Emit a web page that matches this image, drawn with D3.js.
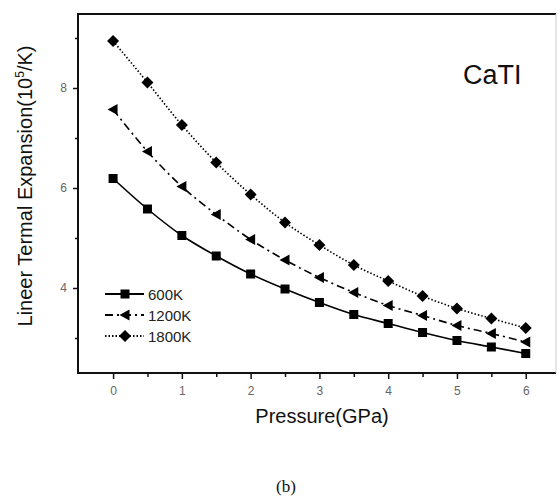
<!DOCTYPE html>
<html>
<head>
<meta charset="utf-8">
<script src="https://cdn.jsdelivr.net/npm/d3@7"></script>
<style>
  body { margin: 0; background: #fff; }
  text { font-family: Arial, "Liberation Sans", sans-serif; }
</style>
</head>
<body>
<svg id="chart" width="557" height="497"></svg>
<script>
// values
var pressure = [0, 0.5, 1, 1.5, 2, 2.5, 3, 3.5, 4, 4.5, 5, 5.5, 6]
var k600  = [6.19, 5.58, 5.05, 4.64, 4.28, 3.98, 3.71, 3.47, 3.29, 3.11, 2.95, 2.82, 2.69]
var k1200 = [7.57, 6.73, 6.03, 5.47, 4.97, 4.56, 4.21, 3.91, 3.65, 3.45, 3.25, 3.09, 2.92]
var k1800 = [8.94, 8.11, 7.26, 6.51, 5.87, 5.31, 4.86, 4.46, 4.14, 3.84, 3.59, 3.39, 3.20]
var xTicks = [0, 1, 2, 3, 4, 5, 6]
var yTicks = [4, 6, 8]
var seriesNames = ['600K', '1200K', '1800K']

var series = [
  {name: seriesNames[0], values: k600,  dash: null,      marker: 'square'},
  {name: seriesNames[1], values: k1200, dash: '8,4,2,4', marker: 'triangle'},
  {name: seriesNames[2], values: k1800, dash: '1.5,2',   marker: 'diamond'}
]

var svg = d3.select('#chart')
// plot box (note: "top" is reserved on window, so use a prefix)
var boxL = 78, boxR = 556, boxT = 14, boxB = 373

var x = d3.scaleLinear().domain([-0.51, 6.44]).range([boxL, boxR])
var y = d3.scaleLinear().domain([2.3, 9.48]).range([boxB, boxT])

// frame: top/left/bottom dark, right edge only faintly visible (cropped in source)
svg.append('path')
  .attr('d', 'M' + boxR + ',' + boxT + 'H' + boxL + 'V' + boxB + 'H' + boxR)
  .attr('fill', 'none').attr('stroke', '#111').attr('stroke-width', 2)
svg.append('line').attr('x1', boxR).attr('x2', boxR).attr('y1', boxT).attr('y2', boxB)
  .attr('stroke', '#ccc').attr('stroke-width', 1)

// x axis: major + minor ticks
var xAxis = svg.append('g').attr('transform', 'translate(0,' + boxB + ')')
xAxis.call(d3.axisBottom(x).tickValues(xTicks).tickSize(6).tickPadding(7).tickFormat(d3.format('d')))
xAxis.append('g').call(d3.axisBottom(x).tickValues([0.5, 1.5, 2.5, 3.5, 4.5, 5.5]).tickSize(4).tickFormat(''))
var yAxis = svg.append('g').attr('transform', 'translate(' + boxL + ',0)')
yAxis.call(d3.axisLeft(y).tickValues(yTicks).tickSize(5).tickPadding(6).tickFormat(d3.format('d')))
yAxis.append('g').call(d3.axisLeft(y).tickValues([3, 5, 7, 9]).tickSize(3).tickFormat(''))

svg.selectAll('.domain').remove()
svg.selectAll('.tick line').attr('stroke', '#111').attr('stroke-width', 1.5)
svg.selectAll('.tick text').attr('fill', '#666').style('font-size', '12px')
  .style('font-family', 'Arial, "Liberation Sans", sans-serif')

function drawMarker(g, type, cx, cy) {
  if (type === 'square') {
    g.append('rect').attr('x', cx - 4.5).attr('y', cy - 4.5).attr('width', 9).attr('height', 9).attr('fill', '#000')
  } else if (type === 'triangle') {
    g.append('path').attr('d', 'M' + (cx - 5.5) + ',' + cy + 'L' + (cx + 4.5) + ',' + (cy - 5.5) + 'L' + (cx + 4.5) + ',' + (cy + 5.5) + 'Z').attr('fill', '#000')
  } else {
    g.append('path').attr('d', 'M' + cx + ',' + (cy - 6) + 'L' + (cx + 6) + ',' + cy + 'L' + cx + ',' + (cy + 6) + 'L' + (cx - 6) + ',' + cy + 'Z').attr('fill', '#000')
  }
}

var line = d3.line().curve(d3.curveCatmullRom)
series.forEach(function(s) {
  var pts = pressure.map(function(p, i) { return [x(p), y(s.values[i])] })
  svg.append('path')
    .attr('d', line(pts))
    .attr('fill', 'none').attr('stroke', '#000').attr('stroke-width', 1.6)
    .attr('stroke-dasharray', s.dash)
  var g = svg.append('g')
  pts.forEach(function(p) { drawMarker(g, s.marker, p[0], p[1]) })
})

// legend
var legend = svg.append('g')
series.forEach(function(s, i) {
  var ly = 294 + i * 21
  legend.append('line').attr('x1', 105).attr('x2', 144).attr('y1', ly).attr('y2', ly)
    .attr('stroke', '#000').attr('stroke-width', 1.8).attr('stroke-dasharray', s.dash)
  drawMarker(legend, s.marker, 125, ly)
  legend.append('text').attr('x', 148).attr('y', ly + 5.5).style('font-size', '15px').attr('fill', '#222').text(s.name)
})

// annotation
svg.append('text').attr('x', 463).attr('y', 84).style('font-size', '27px').attr('fill', '#111').text('CaTI')

// axis titles
svg.append('text').attr('x', 322).attr('y', 423).attr('text-anchor', 'middle')
  .style('font-size', '20px').attr('fill', '#111').text('Pressure(GPa)')

var yl = svg.append('text').attr('transform', 'translate(32,186) rotate(-90)').attr('text-anchor', 'middle')
  .style('font-size', '20px').attr('fill', '#111')
yl.append('tspan').text('Lineer Termal Expansion(10')
yl.append('tspan').attr('dy', -8).style('font-size', '12px').text('5')
yl.append('tspan').attr('dy', 8).text('/K)')

svg.append('text').attr('x', 286).attr('y', 492).attr('text-anchor', 'middle')
  .style('font-family', '"Liberation Serif", "Times New Roman", serif').style('font-size', '17px')
  .attr('fill', '#111').text('(b)')
</script>
</body>
</html>
